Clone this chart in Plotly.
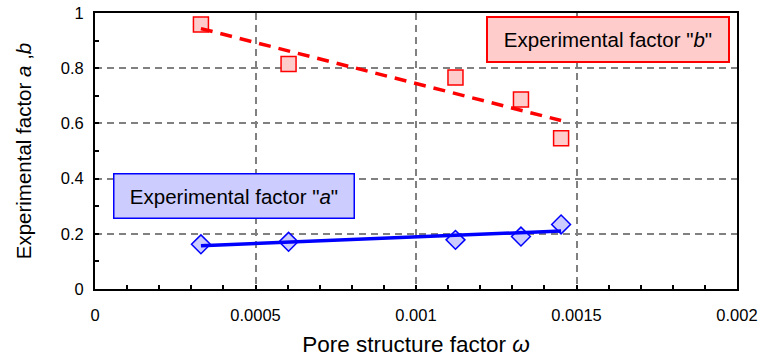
import numpy as np
import plotly.graph_objects as go

# Pore structure factor (omega) for each specimen
omega = [0.00033, 0.000603, 0.001123, 0.001327, 0.001452]
# Experimental factors measured at each omega
factor_a = [0.162, 0.171, 0.178, 0.190, 0.234]
factor_b = [0.958, 0.815, 0.766, 0.687, 0.546]

x_tick_vals = [0, 0.0005, 0.001, 0.0015, 0.002]
x_tick_text = ["0", "0.0005", "0.001", "0.0015", "0.002"]
y_tick_vals = [0, 0.2, 0.4, 0.6, 0.8, 1.0]
y_tick_text = ["0", "0.2", "0.4", "0.6", "0.8", "1"]

FONT = "Liberation Sans, Arial, sans-serif"


def linear_fit(x, y):
    k, c = np.polyfit(x, y, 1)
    xs = np.array([min(x), max(x)])
    return xs, k * xs + c


fit_a_x, fit_a_y = linear_fit(omega, factor_a)
fit_b_x, fit_b_y = linear_fit(omega, factor_b)

fig = go.Figure()

# measured points
fig.add_trace(go.Scatter(
    x=omega, y=factor_b, mode="markers",
    marker=dict(symbol="square", size=15, color="#FFCCCC",
                line=dict(color="#FF0000", width=1.5)),
    showlegend=False, cliponaxis=False))
fig.add_trace(go.Scatter(
    x=omega, y=factor_a, mode="markers",
    marker=dict(symbol="diamond", size=14.5, color="#CCCCFF",
                line=dict(color="#0000FF", width=1.5)),
    showlegend=False, cliponaxis=False))

# linear trend lines
fig.add_trace(go.Scatter(
    x=fit_b_x, y=fit_b_y, mode="lines",
    line=dict(color="#FF0000", width=3.5, dash="12px,8px"),
    showlegend=False))
fig.add_trace(go.Scatter(
    x=fit_a_x, y=fit_a_y, mode="lines",
    line=dict(color="#0000FF", width=3.5),
    showlegend=False))

# labelled boxes for each factor
fig.add_annotation(
    xref="paper", yref="paper", x=0.799, y=0.904,
    xanchor="center", yanchor="middle", showarrow=False,
    text='Experimental factor "<i>b</i>"',
    font=dict(family=FONT, size=20.5, color="black"),
    bgcolor="#FFCCCC", bordercolor="#FF0000", borderwidth=2, borderpad=0,
    width=240, height=43)
fig.add_annotation(
    xref="paper", yref="paper", x=0.2165, y=0.336,
    xanchor="center", yanchor="middle", showarrow=False,
    text='Experimental factor "<i>a</i>"',
    font=dict(family=FONT, size=20.5, color="black"),
    bgcolor="#CCCCFF", bordercolor="#0000FF", borderwidth=1.5, borderpad=0,
    width=239, height=43)

grid = dict(showgrid=True, gridcolor="#808080", gridwidth=1.5, griddash="7px,5px")

fig.update_xaxes(
    range=[0, 0.002], tickvals=x_tick_vals, ticktext=x_tick_text,
    ticks="inside", ticklen=4, tickwidth=1.5, tickcolor="black",
    minor=dict(dtick=0.0001, ticks="inside", ticklen=4, tickwidth=1.5,
               tickcolor="black", showgrid=False),
    showline=True, linecolor="black", linewidth=2, mirror=True,
    zeroline=False, automargin=False, ticklabelstandoff=10,
    tickfont=dict(family=FONT, size=16.5, color="black"),
    title=dict(text="Pore structure factor <i>ω</i>",
               font=dict(family=FONT, size=22.5, color="black"), standoff=13),
    **grid)
fig.update_yaxes(
    range=[0, 1], tickvals=y_tick_vals, ticktext=y_tick_text,
    ticks="inside", ticklen=4, tickwidth=1.5, tickcolor="black",
    minor=dict(dtick=0.1, ticks="inside", ticklen=4, tickwidth=1.5,
               tickcolor="black", showgrid=False),
    showline=True, linecolor="black", linewidth=2, mirror=True,
    zeroline=False, automargin=False, ticklabelstandoff=6,
    tickfont=dict(family=FONT, size=16.5, color="black"),
    title=dict(text="Experimental factor <i>a</i> ,<i>b</i>",
               font=dict(family=FONT, size=20.5, color="black"), standoff=24),
    **grid)

fig.update_layout(
    width=761, height=363,
    margin=dict(l=95, r=24, t=13, b=74),
    paper_bgcolor="white", plot_bgcolor="white",
    font=dict(family=FONT, color="black"),
    showlegend=False)

fig.write_html("out.html")
